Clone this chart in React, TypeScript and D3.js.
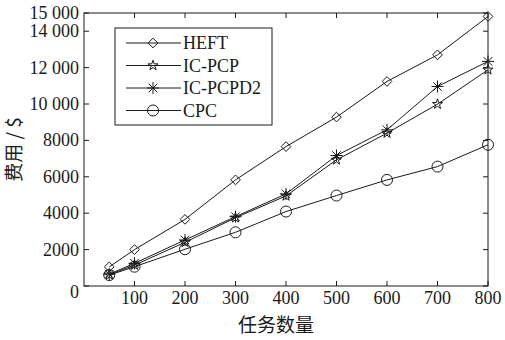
import * as d3 from 'd3';

// task counts on the x axis
const taskCounts = [50, 100, 200, 300, 400, 500, 600, 700, 800];

// cost series
const heft = [1050, 2000, 3660, 5830, 7660, 9280, 11240, 12700, 14810];
const icPcp = [620, 1150, 2400, 3750, 4950, 6930, 8400, 9990, 11880];
const icPcpd2 = [650, 1250, 2530, 3810, 5060, 7170, 8580, 10960, 12340];
const cpc = [600, 1060, 2020, 2950, 4090, 4970, 5830, 6560, 7760];

const xTicks = [100, 200, 300, 400, 500, 600, 700, 800];
const yTicks = [0, 2000, 4000, 6000, 8000, 10000, 12000, 14000, 15000];
const yTickLabels = ['0', '2000', '4000', '6000', '8000', '10 000', '12 000', '14 000', '15 000'];

type Marker = 'diamond' | 'star' | 'asterisk' | 'circle';
const series: { name: string; values: number[]; marker: Marker }[] = [
  { name: 'HEFT', values: heft, marker: 'diamond' },
  { name: 'IC-PCP', values: icPcp, marker: 'star' },
  { name: 'IC-PCPD2', values: icPcpd2, marker: 'asterisk' },
  { name: 'CPC', values: cpc, marker: 'circle' },
];

const W = 505;
const H = 340;
const INK = '#1a1a1a';
const SERIF = '"Liberation Serif", "Times New Roman", serif';
const CJK = '"Noto Sans CJK SC", sans-serif';

function MarkerShape({ type, x, y }: { type: Marker; x: number; y: number }) {
  const common = { fill: 'none', stroke: INK, strokeWidth: 1 };
  if (type === 'circle') return <circle cx={x} cy={y} r={5.5} {...common} />;
  if (type === 'diamond') {
    const d = d3.symbol().type(d3.symbolDiamond2).size(60)();
    return <path d={d ?? ''} transform={`translate(${x},${y})`} {...common} />;
  }
  if (type === 'star') {
    const d = d3.symbol().type(d3.symbolStar).size(32)();
    return <path d={d ?? ''} transform={`translate(${x},${y})`} {...common} />;
  }
  // asterisk: plus + cross
  const r = 6;
  const k = r * 0.7071;
  return (
    <path
      d={`M${-r},0H${r}M0,${-r}V${r}M${-k},${-k}L${k},${k}M${-k},${k}L${k},${-k}`}
      transform={`translate(${x},${y})`}
      {...common}
    />
  );
}

export default function App() {
  const left = 84;
  const right = 488;
  const top = 13;
  const bottom = 286;

  const x = d3.scaleLinear().domain([0, 800]).range([left, right]);
  const y = d3.scaleLinear().domain([0, 15000]).range([bottom, top]);

  const line = d3
    .line<number>()
    .x((_, i) => x(taskCounts[i]))
    .y((d) => y(d));

  const tick = 5;

  // legend layout
  const lg = { x: 115, y: 28, w: 157, h: 97, row: 22.5 };

  return (
    <svg
      width={W}
      height={H}
      viewBox={`0 0 ${W} ${H}`}
      style={{ position: 'absolute', left: 0, top: 0, background: '#fff' }}
    >
      {/* plot frame */}
      <rect x={left} y={top} width={right - left} height={bottom - top} fill="none" stroke={INK} strokeWidth={1} />

      {/* x ticks (inside, top and bottom) */}
      {xTicks.map((t) => (
        <g key={`xt${t}`}>
          <line x1={x(t)} x2={x(t)} y1={bottom} y2={bottom - tick} stroke={INK} />
          <line x1={x(t)} x2={x(t)} y1={top} y2={top + tick} stroke={INK} />
          <text
            x={x(t)}
            y={bottom + 18}
            textAnchor="middle"
            fontFamily={SERIF}
            fontSize={18}
            fill={INK}
          >
            {t}
          </text>
        </g>
      ))}

      {/* y ticks (inside, left and right) */}
      {yTicks.map((t, i) => (
        <g key={`yt${t}`}>
          <line x1={left} x2={left + tick} y1={y(t)} y2={y(t)} stroke={INK} />
          <line x1={right} x2={right - tick} y1={y(t)} y2={y(t)} stroke={INK} />
          <text
            x={left - 5}
            y={y(t) + (t === 0 ? 12 : 6)}
            textAnchor="end"
            fontFamily={SERIF}
            fontSize={18}
            fill={INK}
          >
            {yTickLabels[i]}
          </text>
        </g>
      ))}

      {/* series */}
      {series.map((s) => (
        <g key={s.name}>
          <path d={line(s.values) ?? ''} fill="none" stroke={INK} strokeWidth={1} />
          {s.values.map((v, i) => (
            <MarkerShape key={i} type={s.marker} x={x(taskCounts[i])} y={y(v)} />
          ))}
        </g>
      ))}

      {/* legend */}
      <rect x={lg.x} y={lg.y} width={lg.w} height={lg.h} fill="#fff" stroke={INK} strokeWidth={1} />
      {series.map((s, i) => {
        const cy = lg.y + 15 + i * lg.row;
        return (
          <g key={`lg${s.name}`}>
            <line x1={lg.x + 11} x2={lg.x + 66} y1={cy} y2={cy} stroke={INK} />
            <MarkerShape type={s.marker} x={lg.x + 38} y={cy} />
            <text x={lg.x + 68} y={cy + 6} fontFamily={SERIF} fontSize={18} fill={INK}>
              {s.name}
            </text>
          </g>
        );
      })}

      {/* axis titles */}
      <text x={276} y={332} textAnchor="middle" fontFamily={CJK} fontSize={19} fill={INK}>
        任务数量
      </text>
      <text
        transform={`translate(21,${(top + bottom) / 2}) rotate(-90)`}
        textAnchor="middle"
        fontFamily={CJK}
        fontSize={19}
        fill={INK}
      >
        费用 / $
      </text>
    </svg>
  );
}
